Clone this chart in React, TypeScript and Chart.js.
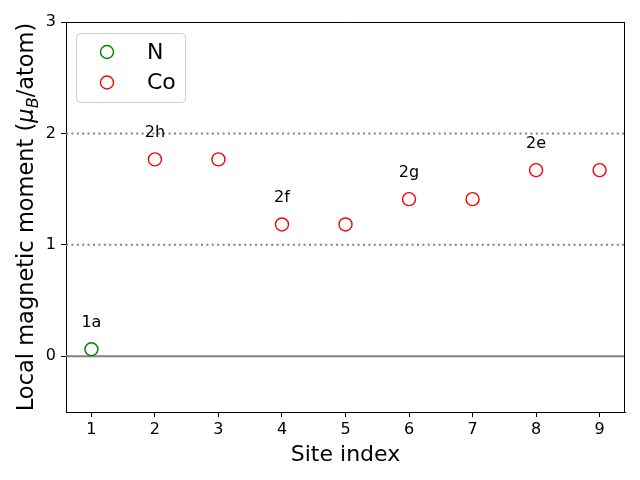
import React, { useEffect, useRef } from "react";
import { Chart, registerables } from "chart.js";

Chart.register(...registerables);

// ---- Data ----
const nSites = [1];
const nMoments = [0.063];
const coSites = [2, 3, 4, 5, 6, 7, 8, 9];
const coMoments = [1.767, 1.767, 1.183, 1.183, 1.41, 1.41, 1.671, 1.671];
const wyckoffLabels = ["1a", "2h", "2f", "2g", "2e"];
const wyckoffSites = [1, 2, 4, 6, 8];
const xTicks = [1, 2, 3, 4, 5, 6, 7, 8, 9];
const yTicks = [0, 1, 2, 3];
const dottedRefs = [1, 2];
const solidRefs = [0];

const FONT = "'DejaVu Sans', 'Liberation Sans', sans-serif";
const LABEL_OFFSET = 0.2;

function momentAt(site: number): number {
  const i = nSites.indexOf(site);
  if (i >= 0) return nMoments[i];
  return coMoments[coSites.indexOf(site)];
}

const overlay = {
  id: "overlay",
  beforeDatasetsDraw(chart: any) {
    const { ctx, chartArea, scales } = chart;
    const { left, right, top, bottom } = chartArea;
    const y = scales.y;
    ctx.save();
    ctx.beginPath();
    ctx.rect(left, top, right - left, bottom - top);
    ctx.clip();
    ctx.strokeStyle = "#808080";
    ctx.lineWidth = 2;
    ctx.setLineDash([2, 3.4]);
    for (const v of dottedRefs) {
      const py = y.getPixelForValue(v);
      ctx.beginPath();
      ctx.moveTo(left, py);
      ctx.lineTo(right, py);
      ctx.stroke();
    }
    ctx.setLineDash([]);
    for (const v of solidRefs) {
      const py = y.getPixelForValue(v);
      ctx.beginPath();
      ctx.moveTo(left, py);
      ctx.lineTo(right, py);
      ctx.stroke();
    }
    ctx.restore();
  },
  afterDraw(chart: any) {
    const { ctx, chartArea, scales } = chart;
    const { left, right, top, bottom } = chartArea;
    const x = scales.x;
    const y = scales.y;
    ctx.save();
    // top & right spines
    ctx.strokeStyle = "#000";
    ctx.lineWidth = 1;
    ctx.beginPath();
    ctx.moveTo(left, top + 0.5);
    ctx.lineTo(right, top + 0.5);
    ctx.moveTo(right - 0.5, top);
    ctx.lineTo(right - 0.5, bottom);
    ctx.stroke();

    // Wyckoff annotations
    ctx.fillStyle = "#000";
    ctx.font = `16px ${FONT}`;
    ctx.textAlign = "center";
    ctx.textBaseline = "alphabetic";
    wyckoffLabels.forEach((lab, i) => {
      const s = wyckoffSites[i];
      const px = x.getPixelForValue(s);
      const py = y.getPixelForValue(momentAt(s) + LABEL_OFFSET);
      ctx.fillText(lab, px, py);
    });

    // Legend
    const lx = 76.5, ly = 33.5, lw = 109, lh = 69, r = 4;
    ctx.beginPath();
    ctx.moveTo(lx + r, ly);
    ctx.lineTo(lx + lw - r, ly);
    ctx.quadraticCurveTo(lx + lw, ly, lx + lw, ly + r);
    ctx.lineTo(lx + lw, ly + lh - r);
    ctx.quadraticCurveTo(lx + lw, ly + lh, lx + lw - r, ly + lh);
    ctx.lineTo(lx + r, ly + lh);
    ctx.quadraticCurveTo(lx, ly + lh, lx, ly + lh - r);
    ctx.lineTo(lx, ly + r);
    ctx.quadraticCurveTo(lx, ly, lx + r, ly);
    ctx.closePath();
    ctx.fillStyle = "rgba(255,255,255,0.8)";
    ctx.fill();
    ctx.strokeStyle = "#cccccc";
    ctx.lineWidth = 1;
    ctx.stroke();
    const entries = chart.data.datasets;
    entries.forEach((ds: any, i: number) => {
      const cy = 52 + i * 30.5;
      ctx.beginPath();
      ctx.arc(107, cy, 6.5, 0, Math.PI * 2);
      ctx.strokeStyle = ds.borderColor;
      ctx.lineWidth = 1.4;
      ctx.stroke();
      ctx.fillStyle = "#000";
      ctx.font = `22px ${FONT}`;
      ctx.textAlign = "left";
      ctx.textBaseline = "middle";
      ctx.fillText(ds.label, 147, cy + 1);
    });

    // X axis title
    ctx.fillStyle = "#000";
    ctx.font = `22px ${FONT}`;
    ctx.textAlign = "center";
    ctx.textBaseline = "alphabetic";
    ctx.fillText("Site index", (left + right) / 2, 461);

    // Y axis title with mathtext-like subscript
    const partA = "Local magnetic moment (";
    const partMu = "\u03bc";
    const partB = "B";
    const partC = "/atom)";
    const fMain = `22.5px ${FONT}`;
    const fIt = `oblique 22.5px ${FONT}`;
    const fSub = `oblique 16px ${FONT}`;
    ctx.font = fMain;
    const wA = ctx.measureText(partA).width;
    const wC = ctx.measureText(partC).width;
    ctx.font = fIt;
    const wMu = ctx.measureText(partMu).width;
    ctx.font = fSub;
    const wB = ctx.measureText(partB).width;
    const total = wA + wMu + wB + wC;
    ctx.translate(33, (top + bottom) / 2);
    ctx.rotate(-Math.PI / 2);
    ctx.textAlign = "left";
    ctx.textBaseline = "alphabetic";
    let cx = -total / 2;
    ctx.font = fMain;
    ctx.fillText(partA, cx, 0);
    cx += wA;
    ctx.font = fIt;
    ctx.fillText(partMu, cx, 0);
    cx += wMu;
    ctx.font = fSub;
    ctx.fillText(partB, cx, 4.5);
    cx += wB;
    ctx.font = fMain;
    ctx.fillText(partC, cx, 0);
    ctx.restore();
  },
};

export default function App() {
  const ref = useRef<HTMLCanvasElement | null>(null);
  useEffect(() => {
    if (!ref.current) return;
    const chart = new Chart(ref.current, {
      type: "scatter",
      data: {
        datasets: [
          {
            label: "N",
            data: nSites.map((s, i) => ({ x: s, y: nMoments[i] })),
            borderColor: "#008000",
            backgroundColor: "rgba(0,0,0,0)",
            pointRadius: 6.5,
            pointBorderWidth: 1.4,
            pointHoverRadius: 6.5,
          },
          {
            label: "Co",
            data: coSites.map((s, i) => ({ x: s, y: coMoments[i] })),
            borderColor: "#ff0000",
            backgroundColor: "rgba(0,0,0,0)",
            pointRadius: 6.5,
            pointBorderWidth: 1.4,
            pointHoverRadius: 6.5,
          },
        ],
      },
      options: {
        responsive: false,
        animation: false,
        events: [],
        layout: { padding: { left: 0, top: 22, right: 15, bottom: 0 } },
        plugins: {
          legend: { display: false },
          tooltip: { enabled: false },
        },
        scales: {
          x: {
            type: "linear",
            min: 0.6,
            max: 9.4,
            afterBuildTicks: (scale: any) => {
              scale.ticks = xTicks.map((v) => ({ value: v }));
            },
            afterFit: (scale: any) => {
              scale.height = 68;
            },
            grid: {
              display: true,
              drawOnChartArea: false,
              drawTicks: true,
              tickLength: 5,
              color: "#000",
            },
            border: { display: true, color: "#000", width: 1 },
            ticks: {
              color: "#000",
              font: { family: FONT, size: 16 },
              padding: 3,
              maxRotation: 0,
              autoSkip: false,
              callback: (v: any) => String(v),
            },
          },
          y: {
            type: "linear",
            min: -0.5,
            max: 3,
            afterBuildTicks: (scale: any) => {
              scale.ticks = yTicks.map((v) => ({ value: v }));
            },
            afterFit: (scale: any) => {
              scale.width = 66;
            },
            grid: {
              display: true,
              drawOnChartArea: false,
              drawTicks: true,
              tickLength: 5,
              color: "#000",
            },
            border: { display: true, color: "#000", width: 1 },
            ticks: {
              color: "#000",
              font: { family: FONT, size: 16 },
              padding: 5,
              autoSkip: false,
              callback: (v: any) => String(v),
            },
          },
        },
      },
      plugins: [overlay],
    });
    return () => chart.destroy();
  }, []);
  return (
    <div style={{ position: "absolute", left: 0, top: 0, width: 640, height: 480, background: "#fff" }}>
      <canvas ref={ref} width={640} height={480} />
    </div>
  );
}
